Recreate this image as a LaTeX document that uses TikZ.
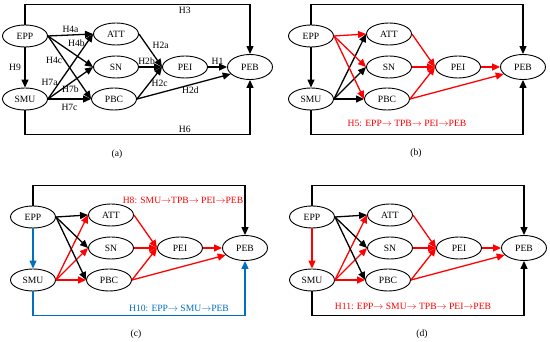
\documentclass[tikz,border=0pt]{standalone}
\usepackage{fontspec}
\setmainfont{Liberation Serif}
\usetikzlibrary{arrows.meta,shapes.geometric}
\definecolor{pathred}{HTML}{FF0000}
\definecolor{pathblue}{HTML}{0070C0}
\tikzset{
    every node/.style={font=\fontsize{9.6}{11}\selectfont},
    construct/.style={ellipse,draw,line width=0.9pt,minimum width=45pt,minimum height=22pt,inner sep=0pt},
    outcome/.style={construct,minimum height=25pt},
    arr/.style={-{Triangle[length=8pt,width=7pt]},line width=1.3pt},
    hyp/.style={inner sep=1.5pt},
    mediation/.style={inner sep=0pt}
}
\newcommand{\tpbnodes}[2]{%
    \node[construct] (#1-epp) at (#2,0) {EPP};
    \node[construct] (#1-smu) at (#2,63) {SMU};
    \node[construct] (#1-att) at (78,-2) {ATT};
    \node[construct] (#1-sn) at (78,31) {SN};
    \node[construct] (#1-pbc) at (76,63) {PBC};
    \node[construct] (#1-pei) at (147,31) {PEI};
    \node[outcome] (#1-peb) at (212,31) {PEB};
}

\begin{document}
\begin{tikzpicture}[x=1pt,y=-1pt]
    \useasboundingbox (0,0) rectangle (550,342);

    \begin{scope}[shift={(38,36)}]
        \tpbnodes{a}{-13}
        \draw[arr] (a-epp.north) -- ++(0,-20) -| node[hyp,pos=0.355,below] {H3} (a-peb.north);
        \draw[arr] (a-smu.south) -- ++(0,24) -| node[hyp,pos=0.355,above] {H6} (a-peb.south);
        \draw[arr] (a-epp) -- node[hyp,left=2pt] {H9} (a-smu);
        \draw[arr] (a-epp.east) -- node[hyp,above] {H4a} (a-att.west);
        \draw[arr] (a-epp.east) -- node[hyp,pos=0.4,above right=0pt] {H4b} (a-sn.west);
        \draw[arr] (a-epp.east) -- node[hyp,pos=0.38,left] {H4c} (a-pbc.west);
        \draw[arr] (a-smu.east) -- node[hyp,pos=0.26,left] {H7a} (a-att.west);
        \draw[arr] (a-smu.east) -- node[hyp,pos=0.5,below=1pt] {H7b} (a-sn.west);
        \draw[arr] (a-smu.east) -- node[hyp,below=3pt] {H7c} (a-pbc.west);
        \draw[arr] (a-att.east) -- node[hyp,above right=0pt] {H2a} (a-pei.west);
        \draw[arr] (a-sn.east) -- node[hyp,pos=0.33,above] {H2b} (a-pei.west);
        \draw[arr] (a-pbc.east) -- node[hyp,right] {H2c} (a-pei.west);
        \draw[arr] (a-pbc.east) -- node[hyp,pos=0.57,below] {H2d} (a-peb.200);
        \draw[arr] (a-pei) -- node[hyp,above] {H1} (a-peb);
        \node (a-cap) at (79,118) {(a)};
    \end{scope}

    \begin{scope}[shift={(311,36)}]
        \tpbnodes{b}{0}
        \draw[arr] (b-epp.north) -- ++(0,-20) -| (b-peb.north);
        \draw[arr] (b-smu.south) -- ++(0,24) -| (b-peb.south);
        \draw[arr] (b-epp) -- (b-smu);
        \foreach \target in {att,sn,pbc} {
            \draw[arr] (b-smu.east) -- (b-\target.west);
            \draw[arr,pathred] (b-epp.east) -- (b-\target.west);
            \draw[arr,pathred] (b-\target.east) -- (b-pei.west);
        }
        \draw[arr,pathred] (b-pei) -- (b-peb);
        \draw[arr,pathred] (b-pbc.east) -- (b-peb.200);
        \node[mediation,text=pathred] (b-h5) at (96,87) {H5: EPP$\to$ TPB$\to$ PEI$\to$PEB};
        \node (b-cap) at (105,117) {(b)};
    \end{scope}

    \begin{scope}[shift={(33,217)}]
        \tpbnodes{c}{0}
        \draw[arr] (c-epp.north) -- ++(0,-20) -| (c-peb.north);
        \draw[arr,pathblue] (c-smu.south) -- ++(0,24) -| (c-peb.south);
        \draw[arr,pathblue] (c-epp) -- (c-smu);
        \foreach \target in {att,sn,pbc} {
            \draw[arr] (c-epp.east) -- (c-\target.west);
            \draw[arr,pathred] (c-smu.east) -- (c-\target.west);
            \draw[arr,pathred] (c-\target.east) -- (c-pei.west);
        }
        \draw[arr,pathred] (c-pei) -- (c-peb);
        \draw[arr,pathred] (c-pbc.east) -- (c-peb.200);
        \node[mediation,text=pathred] (c-h8) at (150,-17) {H8: SMU$\to$TPB$\to$ PEI$\to$PEB};
        \node[mediation,text=pathblue] (c-h10) at (146,91) {H10: EPP$\to$ SMU$\to$PEB};
        \node (c-cap) at (103,117) {(c)};
    \end{scope}

    \begin{scope}[shift={(312,217)}]
        \tpbnodes{d}{0}
        \draw[arr] (d-epp.north) -- ++(0,-20) -| (d-peb.north);
        \draw[arr] (d-smu.south) -- ++(0,24) -| (d-peb.south);
        \draw[arr,pathred] (d-epp) -- (d-smu);
        \foreach \target in {att,sn,pbc} {
            \draw[arr] (d-epp.east) -- (d-\target.west);
            \draw[arr,pathred] (d-smu.east) -- (d-\target.west);
            \draw[arr,pathred] (d-\target.east) -- (d-pei.west);
        }
        \draw[arr,pathred] (d-pei) -- (d-peb);
        \draw[arr,pathred] (d-pbc.east) -- (d-peb.200);
        \node[mediation,text=pathred] (d-h11) at (101,89) {H11: EPP$\to$ SMU$\to$ TPB$\to$ PEI$\to$PEB};
        \node (d-cap) at (110,117) {(d)};
    \end{scope}
\end{tikzpicture}
\end{document}
